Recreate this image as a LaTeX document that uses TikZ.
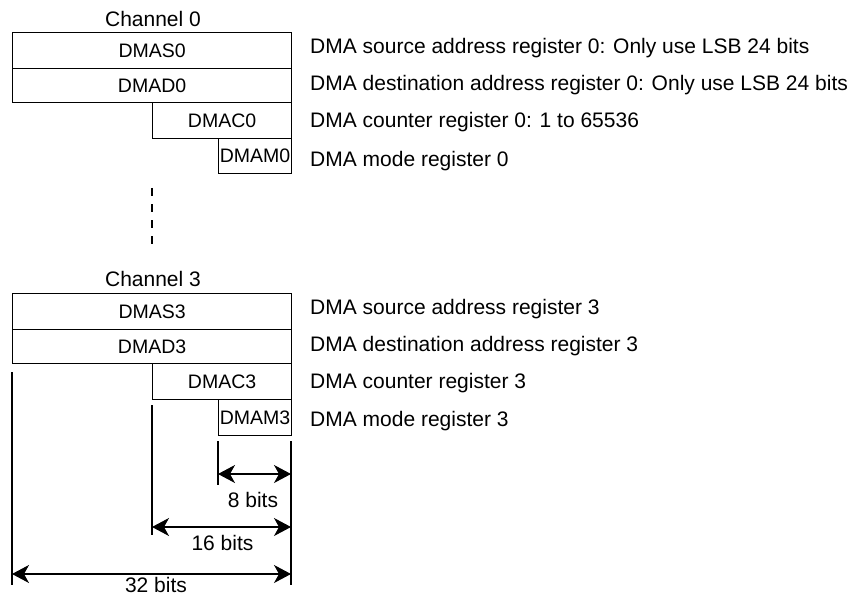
\documentclass[tikz,border=0pt]{standalone}
\usepackage{fontspec}
\setmainfont{Liberation Sans}
\usetikzlibrary{arrows.meta}
\begin{document}
\begin{tikzpicture}[x=1pt,y=-1pt,
  reg/.style={draw, line width=1.2pt, inner sep=0pt, anchor=north west, font=\fontsize{19.5}{22}\selectfont},
  desc/.style={anchor=base west, inner sep=0pt, font=\fontsize{21}{25}\selectfont},
  chan/.style={inner sep=0pt, font=\fontsize{21}{25}\selectfont},
  ext/.style={line width=1.2pt},
  dim/.style={line width=1.2pt, {Stealth[length=17pt,width=18pt,inset=5pt]}-{Stealth[length=17pt,width=18pt,inset=5pt]}},
  lbl/.style={inner sep=0pt, font=\fontsize{21}{25}\selectfont}]
\useasboundingbox (0,0) rectangle (856,596);

% Channel 0
\node[chan] (ch0) at (153,19) {Channel 0};
\node[reg, minimum width=279pt, minimum height=36pt] (s0) at (12,32) {DMAS0};
\node[reg, minimum width=279pt, minimum height=34pt] (d0) at (12,68) {DMAD0};
\node[reg, minimum width=139pt, minimum height=36pt] (c0) at (152,102) {DMAC0};
\node[reg, minimum width=73pt, minimum height=35pt] (m0) at (218,138) {DMAM0};
\node[desc] (ts0) at (310,54) {DMA source address register 0: Only use LSB 24 bits};
\node[desc] (td0) at (310,91) {DMA destination address register 0: Only use LSB 24 bits};
\node[desc] (tc0) at (310,128) {DMA counter register 0: 1 to 65536};
\node[desc] (tm0) at (310,166.5) {DMA mode register 0};

% dots
\coordinate (dA) at (152,188);
\coordinate (dB) at (152,244);
\draw[line width=2.5pt, dash pattern=on 8pt off 8pt] (dA) -- (dB);

% Channel 3
\node[chan] (ch3) at (153,279) {Channel 3};
\node[reg, minimum width=279pt, minimum height=36pt] (s3) at (12,293) {DMAS3};
\node[reg, minimum width=279pt, minimum height=34pt] (d3) at (12,329) {DMAD3};
\node[reg, minimum width=139pt, minimum height=36pt] (c3) at (152,363) {DMAC3};
\node[reg, minimum width=73pt, minimum height=36pt] (m3) at (218,399) {DMAM3};
\node[desc] (ts3) at (310,314) {DMA source address register 3};
\node[desc] (td3) at (310,351.5) {DMA destination address register 3};
\node[desc] (tc3) at (310,388) {DMA counter register 3};
\node[desc] (tm3) at (310,426.5) {DMA mode register 3};

% extension lines
\coordinate (e32t) at (12,372);  \coordinate (e32b) at (12,585);
\coordinate (e16t) at (152,405); \coordinate (e16b) at (152,535);
\coordinate (e8t)  at (218,441); \coordinate (e8b)  at (218,485);
\coordinate (ert)  at (291,441); \coordinate (erb)  at (291,585);
\draw[ext] (e32t) -- (e32b);
\draw[ext] (e16t) -- (e16b);
\draw[ext] (e8t) -- (e8b);
\draw[ext] (ert) -- (erb);

% dimension arrows
\coordinate (a8l) at (218,474);  \coordinate (a8r) at (291,474);
\coordinate (a16l) at (152,527); \coordinate (a16r) at (291,527);
\coordinate (a32l) at (12,574);  \coordinate (a32r) at (291,574);
\draw[dim] (a8l) -- (a8r);
\draw[dim] (a16l) -- (a16r);
\draw[dim] (a32l) -- (a32r);
\node[lbl] (l8) at (253,500) {8 bits};
\node[lbl] (l16) at (222.5,543) {16 bits};
\node[lbl, anchor=base] (l32) at (156,592) {32 bits};
\end{tikzpicture}
\end{document}
